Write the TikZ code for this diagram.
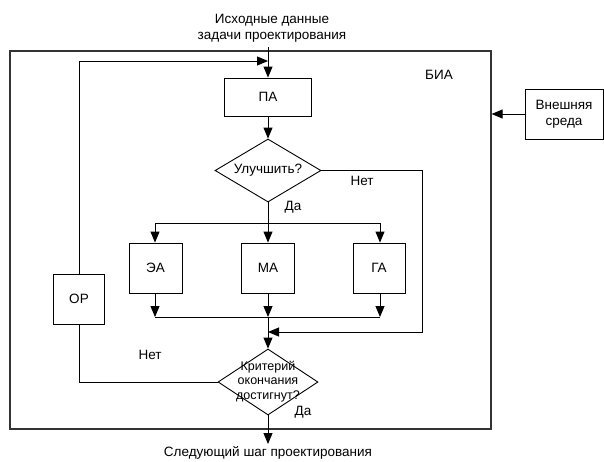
\documentclass[tikz,border=0pt]{standalone}
\usepackage{fontspec}
\setmainfont{Liberation Sans}
\usetikzlibrary{shapes.geometric,arrows.meta}
\begin{document}
\begin{tikzpicture}[x=1pt,y=-1pt,
  every node/.style={font=\fontsize{13.5}{16}\selectfont, inner sep=0pt},
  box/.style={draw, line width=0.9pt, minimum width=53pt, minimum height=50pt},
  dia/.style={draw, diamond, line width=0.9pt, inner sep=0pt},
  txt/.style={align=center},
  arr/.style={line width=0.9pt, -{Triangle[length=11pt,width=9pt]}},
  ln/.style={line width=0.9pt}]
\useasboundingbox (0,0) rectangle (604,461);
% frame
\node[draw, line width=1.2pt, draw=black!80, minimum width=481pt, minimum height=378pt] (bia) at (250.5,240) {};
\node[txt] (biat) at (439,75) {БИА};
% top input
\node[txt] (in) at (272,28) {Исходные данные\\задачи проектирования};
\coordinate (inS) at (268,47);
% PA
\node[box, minimum width=87pt, minimum height=38pt] (pa) at (268,97) {ПА};
\draw[arr] (inS) -- (pa.north);
% decision 1
\node[dia, minimum width=106pt, minimum height=63pt, label=center:{Улучшить?}] (d1) at (268,170.5) {};
\draw[arr] (pa.south) -- (d1.north);
\node (no1) at (362,181) {Нет};
\node (yes1) at (293,207) {Да};
% branch
\coordinate (bL) at (155,223);
\coordinate (bM) at (268,223);
\coordinate (bR) at (380,223);
\draw[ln] (d1.south) -- (bM);
\draw[ln] (bL) -- (bR);
\node[box] (ea) at (155.5,268) {ЭА};
\node[box] (ma) at (268,268) {МА};
\node[box, minimum width=52pt] (ga) at (379,268) {ГА};
\draw[arr] (bL) -- (ea.north -| bL);
\draw[arr] (bM) -- (ma.north);
\draw[arr] (bR) -- (ga.north -| bR);
% join
\coordinate (jL) at (155,317);
\coordinate (jM) at (268,317);
\coordinate (jR) at (380,317);
\draw[arr] (ea.south -| jL) -- (jL);
\draw[arr] (ma.south) -- (jM);
\draw[arr] (ga.south -| jR) -- (jR);
\draw[ln] (jL) -- (jR);
% decision 2
\node[dia, minimum width=100pt, minimum height=66pt,
  label={center:{\fontsize{12.5}{14.5}\selectfont\begin{tabular}{@{}c@{}}Критерий\\окончания\\достигнут?\end{tabular}}}] (d2) at (268,382) {};
\draw[arr] (jM) -- (d2.north);
% no-path of d1
\coordinate (n1a) at (422,170.5);
\coordinate (n1b) at (422,332);
\coordinate (n1c) at (268,332);
\draw[arr] (d1.east) -- (n1a) -- (n1b) -- (n1c);
% OP loop
\node[box, minimum width=51pt] (op) at (79,299) {ОР};
\coordinate (l1) at (79,382);
\coordinate (l2) at (79,61);
\coordinate (l3) at (268,61);
\draw[ln] (d2.west) -- (l1) -- (op.south);
\draw[arr] (op.north) -- (l2) -- (l3);
\node (no2) at (150,355) {Нет};
\node (yes2) at (303,412) {Да};
% output
\coordinate (outE) at (268,444);
\draw[arr] (d2.south) -- (outE);
\node[txt] (out) at (268,453) {Следующий шаг проектирования};
% environment
\node[box, minimum width=78pt, align=center] (env) at (564,114) {Внешняя\\среда};
\draw[arr] (env.west) -- (env.west -| bia.east);
\end{tikzpicture}
\end{document}
